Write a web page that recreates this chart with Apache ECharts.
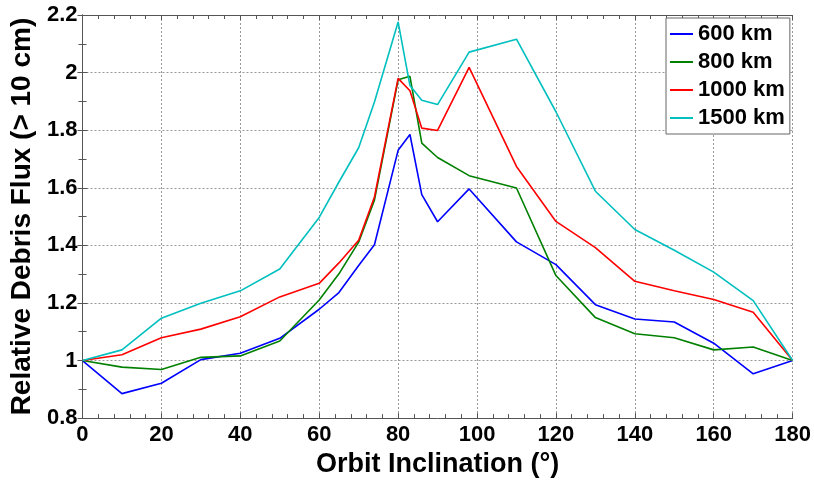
<!DOCTYPE html>
<html>
<head>
<meta charset="utf-8">
<script src="https://cdn.jsdelivr.net/npm/echarts@6/dist/echarts.min.js"></script>
<style>
  html, body { margin: 0; padding: 0; background: #fff; }
  #chart { width: 814px; height: 483px; }
</style>
</head>
<body>
<div id="chart"></div>
<script>
const inclination = [0, 10, 20, 30, 40, 50, 60, 65, 70, 74, 80, 83, 86, 90, 98, 110, 120, 130, 140, 150, 160, 170, 180];
const flux600 = [1.0, 0.885, 0.921, 1.003, 1.025, 1.077, 1.178, 1.236, 1.33, 1.402, 1.730, 1.785, 1.576, 1.482, 1.596, 1.412, 1.333, 1.194, 1.144, 1.134, 1.060, 0.954, 1.0];
const flux800 = [1.0, 0.977, 0.969, 1.011, 1.016, 1.068, 1.210, 1.301, 1.411, 1.557, 1.975, 1.987, 1.755, 1.705, 1.642, 1.599, 1.295, 1.149, 1.093, 1.079, 1.037, 1.047, 1.0];
const flux1000 = [1.0, 1.020, 1.079, 1.109, 1.152, 1.221, 1.268, 1.339, 1.418, 1.568, 1.980, 1.937, 1.807, 1.799, 2.018, 1.674, 1.483, 1.392, 1.275, 1.242, 1.212, 1.168, 1.0];
const flux1500 = [1.0, 1.037, 1.147, 1.199, 1.242, 1.318, 1.497, 1.62, 1.739, 1.898, 2.176, 1.955, 1.904, 1.889, 2.071, 2.116, 1.864, 1.588, 1.455, 1.383, 1.307, 1.208, 1.0];
const seriesNames = ['600 km', '800 km', '1000 km', '1500 km'];
const seriesColors = ['#0000ff', '#008000', '#ff0000', '#00bfbf'];

const FONT = "'Liberation Sans', Arial, sans-serif";
const chart = echarts.init(document.getElementById('chart'));

function pairs(values) {
  return inclination.map((x, i) => [x, values[i]]);
}

const axisLine = { lineStyle: { color: '#555', width: 1 } };
const tick = { inside: true, length: 5, lineStyle: { color: '#555' } };
const minorTick = { show: true, length: 4, lineStyle: { color: '#555' } };
const gridLine = { lineStyle: { color: '#999', type: [2, 2], width: 1 } };

chart.setOption({
  backgroundColor: '#fff',
  animation: false,
  textStyle: { fontFamily: FONT },
  grid: { left: 80, right: 20, top: 15, bottom: 58 },
  legend: {
    orient: 'vertical',
    left: 666,
    top: 18,
    data: seriesNames,
    icon: 'rect',
    itemWidth: 23,
    itemHeight: 2,
    itemGap: 6,
    padding: [5, 5, 5, 4],
    borderColor: '#666',
    borderWidth: 1,
    backgroundColor: '#fff',
    textStyle: { fontFamily: FONT, fontSize: 22, fontWeight: 'bold', color: '#000', lineHeight: 22 },
  },
  xAxis: [
    {
      type: 'value', min: 0, max: 180, interval: 20,
      name: 'Orbit Inclination (°)', nameLocation: 'middle', nameGap: 24,
      nameTextStyle: { fontFamily: FONT, fontSize: 27, fontWeight: 'bold', color: '#000' },
      axisLine, axisTick: tick, minorTick: { ...minorTick, splitNumber: 5 },
      axisLabel: { fontFamily: FONT, fontSize: 22, fontWeight: 'bold', color: '#000', margin: 6 },
      splitLine: { show: true, ...gridLine },
    },
    {
      type: 'value', min: 0, max: 180, interval: 20, position: 'top',
      axisLine, axisTick: tick, minorTick: { ...minorTick, splitNumber: 5 },
      axisLabel: { show: false }, splitLine: { show: false },
    },
  ],
  yAxis: [
    {
      type: 'value', min: 0.8, max: 2.2, interval: 0.2,
      name: 'Relative Debris Flux (> 10 cm)', nameLocation: 'middle', nameGap: 36,
      nameTextStyle: { fontFamily: FONT, fontSize: 28, fontWeight: 'bold', color: '#000' },
      axisLine, axisTick: tick, minorTick: { ...minorTick, splitNumber: 2 },
      axisLabel: { fontFamily: FONT, fontSize: 22, fontWeight: 'bold', color: '#000', margin: 5 },
      splitLine: { show: true, ...gridLine },
    },
    {
      type: 'value', min: 0.8, max: 2.2, interval: 0.2, position: 'right',
      axisLine, axisTick: tick, minorTick: { ...minorTick, splitNumber: 2 },
      axisLabel: { show: false }, splitLine: { show: false },
    },
  ],
  series: [flux600, flux800, flux1000, flux1500].map((values, i) => ({
    name: seriesNames[i],
    type: 'line',
    data: pairs(values),
    symbol: 'none',
    lineStyle: { width: 1.6, color: seriesColors[i] },
    itemStyle: { color: seriesColors[i] },
  })),
});
</script>
</body>
</html>
